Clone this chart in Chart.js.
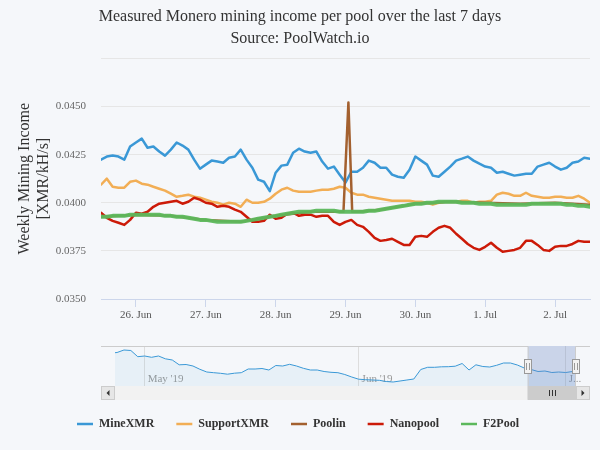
<!DOCTYPE html>
<html>
<head>
<meta charset="utf-8">
<script src="https://cdn.jsdelivr.net/npm/chart.js@4.4.1/dist/chart.umd.min.js"></script>
<style>
  html, body { margin: 0; padding: 0; background: #f5f7fa; }
  #wrap { position: relative; width: 600px; height: 450px; }
  #mainBox { position: absolute; left: 0; top: 0; width: 600px; height: 330px; }
  #navBox { position: absolute; left: 0; top: 330px; width: 600px; height: 120px; }
</style>
</head>
<body>
<div id="wrap">
  <div id="mainBox"><canvas id="mainChart"></canvas></div>
  <div id="navBox"><canvas id="navChart"></canvas></div>
</div>
<script>
/* Monero pool income, last 7 days + navigator */

// hours since 25 Jun 00:00, one reading every 2 h
const hours = [
  12, 14, 16, 18, 20, 22, 24, 26, 28, 30, 32, 34, 36, 38, 40, 42, 44, 46, 48, 50,
  52, 54, 56, 58, 60, 62, 64, 66, 68, 70, 72, 74, 76, 78, 80, 82, 84, 86, 88, 90,
  92, 94, 96, 98, 100, 102, 104, 106, 108, 110, 112, 114, 116, 118, 120, 122, 124, 126, 128, 130,
  132, 134, 136, 138, 140, 142, 144, 146, 148, 150, 152, 154, 156, 158, 160, 162, 164, 166, 168, 170,
  172, 174, 176, 178, 180
];

const mineXMR = [
  0.04224, 0.04240, 0.04245, 0.04240, 0.04224, 0.04292, 0.04313, 0.04333, 0.04286, 0.04292,
  0.04266, 0.04245, 0.04276, 0.04313, 0.04297, 0.04276, 0.04224, 0.04177, 0.04198, 0.04219,
  0.04214, 0.04208, 0.04234, 0.04240, 0.04276, 0.04224, 0.04182, 0.04120, 0.04109, 0.04060,
  0.04156, 0.04193, 0.04198, 0.04260, 0.04281, 0.04266, 0.04260, 0.04266, 0.04214, 0.04177,
  0.04188, 0.04146, 0.04105, 0.04161, 0.04161, 0.04182, 0.04219, 0.04208, 0.04182, 0.04182,
  0.04146, 0.04135, 0.04130, 0.04172, 0.04240, 0.04219, 0.04198, 0.04141, 0.04135, 0.04161,
  0.04188, 0.04219, 0.04229, 0.04240, 0.04219, 0.04203, 0.04188, 0.04182, 0.04156, 0.04161,
  0.04151, 0.04141, 0.04146, 0.04151, 0.04151, 0.04188, 0.04198, 0.04208, 0.04188, 0.04172,
  0.04182, 0.04208, 0.04214, 0.04234, 0.04229
];

const supportXMR = [
  0.04094, 0.04125, 0.04083, 0.04078, 0.04078, 0.04109, 0.04115, 0.04099, 0.04094, 0.04083,
  0.04073, 0.04063, 0.04047, 0.04031, 0.04036, 0.04042, 0.04031, 0.04026, 0.04016, 0.04005,
  0.04000, 0.03990, 0.04000, 0.03995, 0.03979, 0.04016, 0.04000, 0.04000, 0.04005, 0.04021,
  0.04047, 0.04068, 0.04078, 0.04063, 0.04057, 0.04057, 0.04057, 0.04063, 0.04068, 0.04068,
  0.04073, 0.04083, 0.04078, 0.04052, 0.04042, 0.04042, 0.04031, 0.04026, 0.04021, 0.04016,
  0.04010, 0.04010, 0.04010, 0.04010, 0.04005, 0.04005, 0.04000, 0.03990, 0.04000, 0.04005,
  0.04005, 0.04005, 0.04010, 0.04010, 0.04000, 0.04005, 0.04005, 0.04010, 0.04042, 0.04052,
  0.04047, 0.04036, 0.04036, 0.04052, 0.04036, 0.04031, 0.04026, 0.04026, 0.04031, 0.04031,
  0.04026, 0.04026, 0.04036, 0.04021, 0.04000
];

const nanopool = [
  0.03948, 0.03922, 0.03906, 0.03896, 0.03885, 0.03911, 0.03948, 0.03943, 0.03953, 0.03979,
  0.03995, 0.04000, 0.04005, 0.04010, 0.03995, 0.04005, 0.04026, 0.04016, 0.04000, 0.03995,
  0.03979, 0.03984, 0.03979, 0.03964, 0.03953, 0.03927, 0.03901, 0.03901, 0.03906, 0.03938,
  0.03917, 0.03922, 0.03943, 0.03948, 0.03932, 0.03938, 0.03938, 0.03927, 0.03932, 0.03932,
  0.03901, 0.03885, 0.03901, 0.03911, 0.03885, 0.03875, 0.03849, 0.03818, 0.03802, 0.03807,
  0.03813, 0.03797, 0.03781, 0.03781, 0.03823, 0.03828, 0.03823, 0.03849, 0.03870, 0.03880,
  0.03870, 0.03839, 0.03813, 0.03786, 0.03766, 0.03755, 0.03771, 0.03792, 0.03766, 0.03745,
  0.03750, 0.03755, 0.03766, 0.03802, 0.03802, 0.03781, 0.03755, 0.03750, 0.03771, 0.03776,
  0.03776, 0.03786, 0.03802, 0.03797, 0.03797
];

const f2pool = [
  0.03927, 0.03927, 0.03932, 0.03932, 0.03932, 0.03938, 0.03938, 0.03938, 0.03938, 0.03938,
  0.03938, 0.03932, 0.03932, 0.03927, 0.03927, 0.03922, 0.03917, 0.03911, 0.03911, 0.03906,
  0.03901, 0.03901, 0.03901, 0.03901, 0.03901, 0.03906, 0.03911, 0.03917, 0.03922, 0.03927,
  0.03932, 0.03938, 0.03943, 0.03948, 0.03953, 0.03953, 0.03953, 0.03958, 0.03958, 0.03958,
  0.03958, 0.03953, 0.03953, 0.03953, 0.03953, 0.03953, 0.03958, 0.03958, 0.03964, 0.03969,
  0.03974, 0.03979, 0.03984, 0.03990, 0.03995, 0.03995, 0.04000, 0.04000, 0.04005, 0.04005,
  0.04005, 0.04005, 0.04000, 0.04000, 0.04000, 0.03995, 0.03995, 0.03995, 0.03990, 0.03990,
  0.03990, 0.03990, 0.03990, 0.03990, 0.03995, 0.03995, 0.03995, 0.03995, 0.03995, 0.03995,
  0.03990, 0.03990, 0.03984, 0.03984, 0.03979
];

// Poolin is mostly hidden under F2Pool, with one spike on 29 Jun
const poolinHours  = [12, 24, 36, 48, 60, 72, 84, 94, 95.3, 97, 98.3, 100, 108, 120, 132, 144, 156, 168, 180];
const poolinValues = [0.03927, 0.03938, 0.03932, 0.03911, 0.03901, 0.03932, 0.03953, 0.03953, 0.03953, 0.04521,
                      0.03953, 0.03953, 0.03964, 0.03995, 0.04005, 0.04000, 0.03995, 0.04000, 0.03990];

const dayHours  = [24, 48, 72, 96, 120, 144, 168];
const dayLabels = ['26. Jun', '27. Jun', '28. Jun', '29. Jun', '30. Jun', '1. Jul', '2. Jul'];

// navigator: MineXMR history, days since 1 May
const navDays = [
  -4.3, -4, -3, -2, -1, 0, 1, 2, 3, 4, 5, 6, 7, 8, 9, 10, 11, 12, 13, 14,
  15, 16, 17, 18, 19, 20, 21, 22, 23, 24, 25, 26, 27, 28, 29, 30, 31, 32, 33, 34,
  35, 36, 37, 38, 39, 40, 41, 42, 43, 44, 45, 46, 47, 48, 49, 50, 51, 52, 53, 54,
  55, 56, 57, 58, 59, 60, 61, 62, 62.5
];
const navMine = [
  0.04566, 0.04570, 0.04620, 0.04610, 0.04486, 0.04500, 0.04474, 0.04500, 0.04444, 0.04420,
  0.04324, 0.04330, 0.04300, 0.04234, 0.04180, 0.04166, 0.04154, 0.04136, 0.04156, 0.04166,
  0.04240, 0.04240, 0.04250, 0.04220, 0.04310, 0.04300, 0.04334, 0.04300, 0.04254, 0.04220,
  0.04220, 0.04190, 0.04174, 0.04166, 0.04130, 0.04080, 0.04036, 0.04026, 0.04020, 0.04014,
  0.03990, 0.03980, 0.04000, 0.04020, 0.04040, 0.04230, 0.04274, 0.04274, 0.04284, 0.04286,
  0.04296, 0.04350, 0.04220, 0.04324, 0.04290, 0.04280, 0.04314, 0.04360, 0.04360, 0.04320,
  0.04260, 0.04230, 0.04190, 0.04200, 0.04170, 0.04180, 0.04170, 0.04190, 0.04200
];
const navTickDays   = [0, 31, 61];
const navTickLabels = ["May '19", "Jun '19", 'J...'];

const mainMin = 12, mainMax = 180;          // hours shown in main chart
const selStart = 55 + mainMin / 24;          // 25 Jun = day 55
const selEnd   = 55 + mainMax / 24;

const SERIF = "'Liberation Serif', 'DejaVu Serif', serif";
const C = {
  mine: '#3a98d6',
  support: '#f2ae55',
  poolin: '#a3602f',
  nano: '#cc1a08',
  f2: 'rgba(92,184,92,0.95)'
};

function pts(xs, ys) {
  return xs.map((x, i) => ({ x, y: ys[i] }));
}

function lineDs(label, xs, ys, color, width, order) {
  return {
    label, data: pts(xs, ys), borderColor: color, backgroundColor: color,
    borderWidth: width, pointRadius: 0, tension: 0, order,
    borderJoinStyle: 'round', borderCapStyle: 'round'
  };
}

new Chart(document.getElementById('mainChart'), {
  type: 'line',
  data: {
    datasets: [
      lineDs('MineXMR', hours, mineXMR, C.mine, 2.5, 5),
      lineDs('SupportXMR', hours, supportXMR, C.support, 2.5, 4),
      lineDs('Poolin', poolinHours, poolinValues, C.poolin, 2.5, 3),
      lineDs('Nanopool', hours, nanopool, C.nano, 2.5, 2),
      lineDs('F2Pool', hours, f2pool, C.f2, 4, 1)
    ]
  },
  options: {
    responsive: true,
    maintainAspectRatio: false,
    animation: false,
    layout: { padding: 0 },
    plugins: {
      legend: { display: false },
      tooltip: { enabled: false },
      title: {
        display: true,
        text: 'Measured Monero mining income per pool over the last 7 days',
        color: '#333333',
        font: { family: SERIF, size: 16, weight: 'normal' },
        padding: { top: 7, bottom: 0 }
      },
      subtitle: {
        display: true,
        text: 'Source: PoolWatch.io',
        color: '#333333',
        font: { family: SERIF, size: 16, weight: 'normal' },
        padding: { top: 3, bottom: 10 }
      }
    },
    scales: {
      x: {
        type: 'linear',
        min: mainMin,
        max: mainMax,
        afterBuildTicks: s => { s.ticks = dayHours.map(v => ({ value: v })); },
        afterFit: s => { s.height = 31; },
        ticks: {
          autoSkip: false, maxRotation: 0, padding: 2,
          color: '#555555',
          font: { family: SERIF, size: 11 },
          callback: v => dayLabels[dayHours.indexOf(v)]
        },
        grid: { drawOnChartArea: false, drawTicks: true, tickLength: 8, color: '#ccd6eb' },
        border: { color: '#ccd6eb' }
      },
      y: {
        min: 0.0350,
        max: 0.0475,
        afterFit: s => { s.width = 101; },
        ticks: {
          stepSize: 0.0025,
          padding: 15,
          color: '#666666',
          font: { family: SERIF, size: 11 },
          callback: v => (v > 0.0474 ? '' : v.toFixed(4))
        },
        grid: { color: '#e6e6e6', drawTicks: false },
        border: { display: false },
        title: {
          display: true,
          text: ['Weekly Mining Income', '[XMR/kH/s]'],
          color: '#333333',
          font: { family: SERIF, size: 16, lineHeight: 1.15 },
          padding: { top: 16, bottom: 0 }
        }
      },
      yR: {
        position: 'right',
        afterFit: s => { s.width = 10; },
        ticks: { display: false },
        grid: { display: false },
        border: { display: false }
      }
    }
  }
});

// navigator mask, outline, handles and scrollbar
const navDecor = {
  id: 'navDecor',
  afterDatasetsDraw(chart) {
    const { ctx, chartArea: a, scales: { x } } = chart;
    const x0 = x.getPixelForValue(selStart), x1 = x.getPixelForValue(selEnd);
    ctx.save();
    ctx.fillStyle = 'rgba(102,133,194,0.3)';
    ctx.fillRect(x0, a.top, x1 - x0, a.bottom - a.top);
    ctx.restore();
  },
  afterDraw(chart) {
    const { ctx, chartArea: a, scales: { x } } = chart;
    const sb = 14;
    const left = a.left - sb, right = a.right + sb;
    const top = a.bottom, bot = a.bottom + sb;
    const x0 = x.getPixelForValue(selStart), x1 = x.getPixelForValue(selEnd);
    ctx.save();
    // track + thumb
    ctx.fillStyle = '#f2f2f2';
    ctx.fillRect(left, top, right - left, sb);
    ctx.fillStyle = '#cccccc';
    ctx.fillRect(x0, top, x1 - x0, sb);
    ctx.strokeStyle = '#333333';
    ctx.lineWidth = 1;
    const cx = Math.round((x0 + x1) / 2);
    [-3, 0, 3].forEach(dx => {
      ctx.beginPath();
      ctx.moveTo(cx + dx + 0.5, top + 4);
      ctx.lineTo(cx + dx + 0.5, bot - 4);
      ctx.stroke();
    });
    // arrow buttons
    [left, right - sb].forEach((bx, i) => {
      ctx.fillStyle = '#e6e6e6';
      ctx.fillRect(bx, top, sb, sb);
      ctx.strokeStyle = '#cccccc';
      ctx.strokeRect(bx + 0.5, top + 0.5, sb - 1, sb - 1);
      const mx = bx + sb / 2, my = top + sb / 2;
      const d = i === 0 ? -1 : 1;
      ctx.fillStyle = '#333333';
      ctx.beginPath();
      ctx.moveTo(mx - 1.5 * d, my - 3);
      ctx.lineTo(mx + 1.5 * d, my);
      ctx.lineTo(mx - 1.5 * d, my + 3);
      ctx.closePath();
      ctx.fill();
    });
    // outline
    ctx.strokeStyle = '#cccccc';
    ctx.beginPath();
    ctx.moveTo(left, a.top + 0.5);
    ctx.lineTo(x0 + 0.5, a.top + 0.5);
    ctx.lineTo(x0 + 0.5, bot - 0.5);
    ctx.lineTo(x1 - 0.5, bot - 0.5);
    ctx.lineTo(x1 - 0.5, a.top + 0.5);
    ctx.lineTo(right, a.top + 0.5);
    ctx.stroke();
    // handles
    const hy = Math.round((a.top + a.bottom) / 2);
    [x0, x1].forEach(hx => {
      const l = Math.round(hx - 4);
      ctx.fillStyle = '#f2f2f2';
      ctx.strokeStyle = '#999999';
      ctx.fillRect(l, hy - 7, 8, 15);
      ctx.strokeRect(l + 0.5, hy - 7 + 0.5, 7, 14);
      [2, 5].forEach(o => {
        ctx.beginPath();
        ctx.moveTo(l + o + 0.5, hy - 3);
        ctx.lineTo(l + o + 0.5, hy + 4);
        ctx.stroke();
      });
    });
    ctx.restore();
  }
};

const legendOnly = (label, color) => ({ label, data: [], borderColor: color, backgroundColor: color, borderWidth: 2.5, pointRadius: 0 });

new Chart(document.getElementById('navChart'), {
  type: 'line',
  data: {
    datasets: [
      {
        label: 'MineXMR',
        data: pts(navDays, navMine),
        borderColor: C.mine,
        backgroundColor: 'rgba(58,152,214,0.07)',
        borderWidth: 1,
        pointRadius: 0,
        tension: 0,
        fill: 'start'
      },
      legendOnly('SupportXMR', C.support),
      legendOnly('Poolin', C.poolin),
      legendOnly('Nanopool', C.nano),
      legendOnly('F2Pool', '#5cb85c')
    ]
  },
  options: {
    responsive: true,
    maintainAspectRatio: false,
    animation: false,
    layout: { padding: { left: 0, right: 4, top: 16, bottom: 10 } },
    plugins: {
      tooltip: { enabled: false },
      legend: {
        position: 'bottom',
        onClick: null,
        labels: {
          color: '#333333',
          font: { family: SERIF, size: 12, weight: 'bold' },
          usePointStyle: true,
          pointStyle: 'line',
          pointStyleWidth: 16,
          padding: 22,
          generateLabels: ch => Chart.defaults.plugins.legend.labels.generateLabels(ch)
            .map(l => Object.assign(l, { lineWidth: 2.5, pointStyle: 'line' }))
        }
      }
    },
    scales: {
      x: {
        type: 'linear',
        min: -4.3,
        max: 62.5,
        afterBuildTicks: s => { s.ticks = navTickDays.map(v => ({ value: v })); },
        afterFit: s => { s.height = 10; },
        ticks: {
          autoSkip: false, maxRotation: 0,
          mirror: true,
          align: 'start', labelOffset: 3, padding: 0,
          color: '#999999',
          font: { family: SERIF, size: 11 },
          callback: v => navTickLabels[navTickDays.indexOf(v)]
        },
        grid: { color: '#dddddd', drawTicks: false },
        border: { display: false }
      },
      y: {
        min: 0.0390,
        max: 0.0470,
        afterFit: s => { s.width = 115; },
        ticks: { display: false },
        grid: { display: false },
        border: { display: false }
      },
      yR: {
        position: 'right',
        afterFit: s => { s.width = 20; },
        ticks: { display: false },
        grid: { display: false },
        border: { display: false }
      }
    }
  },
  plugins: [navDecor]
});
</script>
</body>
</html>
